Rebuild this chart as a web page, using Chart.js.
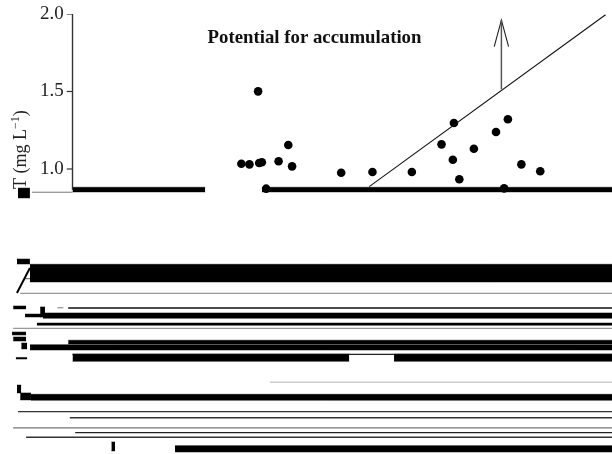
<!DOCTYPE html>
<html><head><meta charset="utf-8">
<style>html,body{margin:0;padding:0;background:#fff}#w{width:612px;height:454px;position:relative}canvas{display:block}</style>
<script src="https://cdn.jsdelivr.net/npm/chart.js@4"></script></head>
<body><div id="w"><canvas id="c"></canvas></div>
<script>
const yTicks = [2.0, 1.5, 1.0];
const pointX = [31.3,32.8,34.6,35.1,34.4,40.0,38.2,40.7,35.9,49.8,55.6,62.9,70.7,68.4,70.5,71.7,74.4,78.5,80.7,83.2,86.7,80.0];
const pointY = [1.034,1.030,1.039,1.043,1.501,1.155,1.050,1.017,0.873,0.976,0.981,0.981,1.297,1.159,1.060,0.934,1.131,1.239,1.321,1.030,0.985,0.875];
const thresholdX = [55.0, 98.8];
const thresholdY = [0.886, 1.995];
const arrowShaftX = [79.5, 79.5];
const arrowShaftY = [1.514, 1.961];
const arrowHeadX = [78.17, 79.5, 80.83];
const arrowHeadY = [1.789, 1.961, 1.789];
const axisX = [0, 0];
const axisY = [0.865, 2.0];
const baseX = [-7.5, 0];
const baseY = [0.850, 0.850];
const slashX = [-7.9, -10.3];
const slashY = [0.361, 0.200];
const bandFrom = [0,35.1,-7.9,-5.5,-8.8,-6.6,-0.8,-7.9,0,59.6,-7.7,19,-11,-11.2,-11,-10.5,-10.1,-10.3,-6,-9.5,-10.3,-9.7,7.2];
const bandTo   = [24.6,100,100,100,-5.7,100,100,100,51.3,100,100,100,-8.6,-8.6,-8.6,-8.4,-7.9,-7.9,-5.1,-8.4,-9.5,-7.7,7.9];
const bandTop  = [0.882,0.882,0.385,0.071,0.064,0.006,-0.105,-0.134,-0.195,-0.195,-0.454,-0.785,0.116,-0.052,-0.084,-0.216,0.877,0.419,0.110,-0.123,-0.394,-0.445,-0.761];
const bandLow  = [0.852,0.852,0.271,0.037,0.045,-0.008,-0.129,-0.168,-0.241,-0.241,-0.492,-0.826,0.097,-0.071,-0.110,-0.226,0.813,0.387,0.045,-0.161,-0.445,-0.490,-0.819];
const ruleFrom = [-9.7,-0.8,-11,-10.1,-0.5,-11,0.5,-8.6,36.6,0,-9,-2.8];
const ruleTo   = [100,100,100,100,100,100,100,100,100,100,0,-1.7];
const ruleY    = [0.198,0.103,-0.028,-0.566,-0.605,-0.671,-0.701,-0.731,-0.376,-0.196,0.292,0.105];
const ruleShade = ['#999','#111','#999','#333','#333','#777','#222','#333','#ccc','#222','#777','#999'];
const yTitle = 'T (mg L';
const ySup = '\u22121';
const yTitleEnd = ')';
const annotation = 'Potential for accumulation';

const xy = (xs, ys) => xs.map((x, i) => ({x, y: ys[i]}));
const ln = (data, color, width) => ({type:'scatter', data, showLine:true, borderColor:color, borderWidth:width,
  pointRadius:0, pointHoverRadius:0, fill:false, tension:0, order:1});
const datasets = [];
datasets.push({type:'scatter', data: xy(pointX, pointY), backgroundColor:'#000', borderColor:'#000', pointRadius:4.3, borderWidth:0, order:5});
datasets.push(ln(xy(thresholdX, thresholdY), '#111', 1.1));
datasets.push(ln(xy(arrowShaftX, arrowShaftY), '#555', 1.5));
datasets.push(ln(xy(arrowHeadX, arrowHeadY), '#222', 1.1));
datasets.push(ln(xy(axisX, axisY), '#333', 1.4));
datasets.push(ln(xy(baseX, baseY), '#777', 1));
datasets.push(ln(xy(slashX, slashY), '#000', 2));
yTicks.forEach(v => datasets.push(ln([{x:-1.07,y:v},{x:0,y:v}], '#333', 1.2)));
bandFrom.forEach((f, i) => {
  const t = bandTo[i];
  datasets.push({...ln([{x:f,y:bandTop[i]},{x:t,y:bandTop[i]}], '#000', 0.5), fill:{target:'+1'}, backgroundColor:'#000'});
  datasets.push(ln([{x:f,y:bandLow[i]},{x:t,y:bandLow[i]}], '#000', 0.5));
});
ruleFrom.forEach((f, i) => datasets.push(ln([{x:f,y:ruleY[i]},{x:ruleTo[i],y:ruleY[i]}], ruleShade[i], 1.3)));

const zeroPad = s => { s.paddingTop = s.paddingBottom = s.paddingLeft = s.paddingRight = 0; };

const textPlugin = {id:'texts', beforeDatasetsDraw(chart){
  const {ctx, scales:{x, y}} = chart;
  ctx.save();
  ctx.fillStyle = '#111';
  ctx.textBaseline = 'middle'; ctx.textAlign = 'center';
  ctx.font = 'bold 18.8px "Liberation Serif"';
  ctx.fillText(annotation, x.getPixelForValue(44.86), y.getPixelForValue(1.845));
  ctx.translate(x.getPixelForValue(-8.53), y.getPixelForValue(0.871));
  ctx.rotate(-Math.PI/2);
  ctx.textAlign = 'left'; ctx.textBaseline = 'alphabetic';
  ctx.font = '18px "Liberation Serif"';
  ctx.fillStyle = '#222';
  let px = 0;
  ctx.fillText(yTitle, px, 0); px += ctx.measureText(yTitle).width;
  ctx.font = '12px "Liberation Serif"';
  ctx.fillText(ySup, px, -7); px += ctx.measureText(ySup).width;
  ctx.font = '18px "Liberation Serif"';
  ctx.fillText(yTitleEnd, px, 0);
  ctx.restore();
}};

new Chart(document.getElementById('c'), {
  type:'scatter',
  data:{datasets},
  plugins:[textPlugin],
  options:{
    responsive:true, maintainAspectRatio:false, animation:false,
    layout:{padding:{top:14,left:0,right:0,bottom:0}, autoPadding:false},
    plugins:{legend:{display:false}, tooltip:{enabled:false}},
    scales:{
      x:{type:'linear', min:-13.44, max:100, display:false, afterFit:s => { zeroPad(s); s.height = 0; }},
      y:{type:'linear', min:-0.839, max:2.0, position:'left',
        afterBuildTicks:s => { s.ticks = yTicks.map(v => ({value:v})); },
        afterFit:s => { zeroPad(s); s.width = 0; },
        border:{display:false},
        grid:{display:false, drawTicks:false},
        ticks:{mirror:true, padding:40, color:'#222', font:{family:'Liberation Serif', size:19}, callback:v => v.toFixed(1), autoSkip:false, maxRotation:0}
      }
    }
  }
});
</script></body></html>
